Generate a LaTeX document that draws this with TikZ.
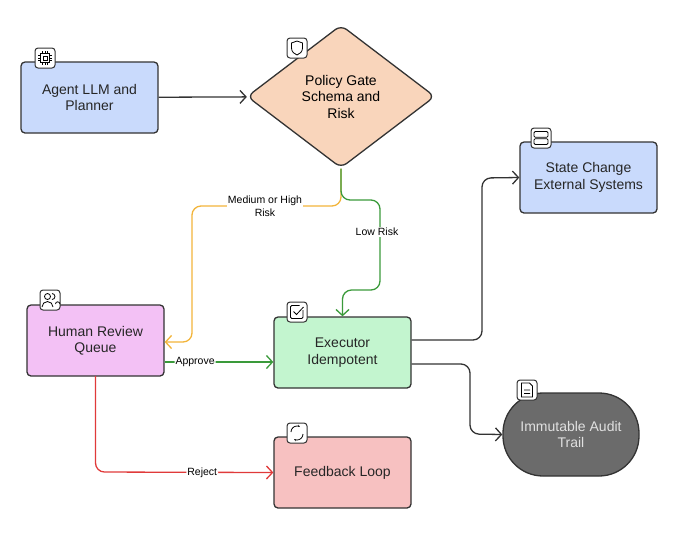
\documentclass[tikz,border=0pt]{standalone}
\usepackage{fontspec}
\setmainfont{Liberation Sans}
\usetikzlibrary{arrows.meta,shapes.geometric}
\definecolor{cblue}{HTML}{C9DAFC}
\definecolor{cpeach}{HTML}{F9D5BB}
\definecolor{cpink}{HTML}{F3C1F5}
\definecolor{cgreen}{HTML}{C3F5CF}
\definecolor{cred}{HTML}{F7C1C1}
\definecolor{cgray}{HTML}{6B6B6B}
\definecolor{corange}{HTML}{F2B43A}
\definecolor{cgr}{HTML}{3A9A3A}
\definecolor{crd}{HTML}{E03A3A}
\definecolor{cline}{HTML}{333333}
\begin{document}
\begin{tikzpicture}[x=1pt,y=-1pt,
 box/.style={draw=cline,line width=1.3pt,rounded corners=4pt,minimum width=137pt,minimum height=71pt,align=center,font=\fontsize{14}{16.5}\selectfont,text=black!85},
 icon/.style={draw=cline,fill=white,line width=1pt,rounded corners=3pt,minimum size=20pt,inner sep=0pt},
 con/.style={line width=1.3pt,rounded corners=9pt,-{Straight Barb[length=6pt,width=13pt]}},
 lab/.style={fill=white,inner sep=1pt,font=\fontsize{10.5}{12.5}\selectfont,align=center}]
\useasboundingbox (0,0) rectangle (677,542);
\node[box,fill=cblue] (agent) at (89.5,97.5) {Agent LLM and\\Planner};
\node[diamond,draw=cline,line width=1.3pt,fill=cpeach,minimum width=188pt,minimum height=143pt,inner sep=0pt,rounded corners=7pt,align=center,font=\fontsize{14}{16.5}\selectfont] (pol) at (341,96.5) {Policy Gate\\Schema and\\Risk};
\node[box,fill=cblue] (state) at (588.5,177.5) {State Change\\External Systems};
\node[box,fill=cpink] (human) at (95.5,340.5) {Human Review\\Queue};
\node[box,fill=cgreen] (exec) at (342.5,352.5) {Executor\\Idempotent};
\node[box,fill=cred] (fb) at (342.5,472.5) {Feedback Loop};
\node[draw=cline,line width=1.3pt,fill=cgray,rounded corners=40pt,minimum width=136pt,minimum height=83pt,align=center,text=white!88!black,font=\fontsize{14}{16.5}\selectfont] (audit) at (571,434.5) {Immutable Audit\\Trail};
% icons
\node[icon] (i1) at (45,58) {};
\draw[line width=0.7pt] (40.5,53.5) rectangle (49.5,62.5) (43,56) rectangle (47,60);
\foreach \t in {-2.5,0,2.5}{\draw[line width=0.6pt] (45+\t,51)--(45+\t,53.5) (45+\t,62.5)--(45+\t,65) (38,58+\t)--(40.5,58+\t) (49.5,58+\t)--(52,58+\t);}
\node[icon] (i2) at (297,48) {};
\draw[line width=0.8pt] (297,41) -- (302.5,43) -- (302.5,48) .. controls (302.5,52) and (299.5,54) .. (297,55) .. controls (294.5,54) and (291.5,52) .. (291.5,48) -- (291.5,43) -- cycle;
\node[icon] (i3) at (541,138) {};
\draw[line width=0.8pt,rounded corners=1.2pt] (534,131.5) rectangle (548,137.3) (534,138.7) rectangle (548,144.5);
\node[icon] (i4) at (50,300) {};
\draw[line width=0.8pt] (47.5,296.5) circle (3pt) (42,307) arc (180:0:5.5pt) (52,293.5) arc (90:-90:3pt) (55.5,304) arc (180:0:2.2pt);
\node[icon] (i5) at (297,312) {};
\draw[line width=0.8pt,rounded corners=1.2pt] (303,310) -- (303,318.5) -- (290.5,318.5) -- (290.5,305.5) -- (299.5,305.5);
\draw[line width=0.8pt] (293.5,311.5) -- (296.5,314.5) -- (303.5,307);
\node[icon] (i6) at (527,390) {};
\draw[line width=0.8pt] (521.5,383) -- (529.5,383) -- (532.5,386) -- (532.5,397) -- (521.5,397) -- cycle (524,390)--(530,390) (524,393.5)--(530,393.5);
\node[icon] (i7) at (297,433) {};
\draw[line width=0.8pt,-{Stealth[length=2.5pt]}] (291,432) arc (180:60:6pt);
\draw[line width=0.8pt,-{Stealth[length=2.5pt]}] (303,434) arc (0:-120:6pt);
% connectors
\draw[con,cline] (agent) -- (pol);
\draw[con,corange] (pol.south) -- (341,206) -- (192,206) -- (192,342) -- (human.east |- 0,342);
\draw[con,cgr] (pol.south) -- (341,200) -- (380,200) -- (380,290) -- (342.5,290) -- (exec.north);
\node[lab] at (265,206) {Medium or High\\Risk};
\node[lab] at (377,232) {Low Risk};
\draw[con,cgr] (human.east |- 0,362) -- (exec.west |- 0,362) node[lab,pos=0.28,text=black]{Approve};
\draw[con,crd] (95.5,376) -- (95.5,472) -- (fb.west) node[lab,pos=0.6,text=black]{Reject};
\draw[con,cline] (exec.east |- 0,340) -- (482,340) -- (482,178) -- (state.west);
\draw[con,cline] (exec.east |- 0,364) -- (470,364) -- (470,434) -- (audit.west);
\end{tikzpicture}
\end{document}
